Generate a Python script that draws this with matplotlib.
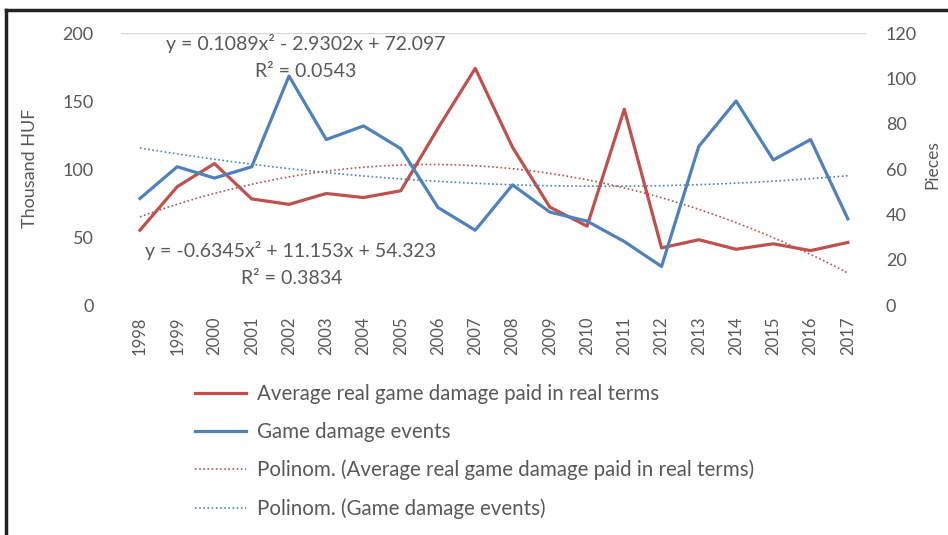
import numpy as np
import matplotlib
matplotlib.use("Agg")
import matplotlib.pyplot as plt
from matplotlib.lines import Line2D

# data
years = [str(y) for y in range(1998, 2018)]
damage_paid = [55, 87, 104, 78, 74, 82, 79, 84, 130, 174, 116, 72, 58, 144,
               42, 48, 41, 45, 40, 46]
damage_events = [47, 61, 56, 61, 101, 73, 79, 69, 43, 33, 53, 41, 37, 28,
                 17, 70, 90, 64, 73, 38]

# Excel trendline coefficients (x = 1..20)
paid_fit = [-0.6345, 11.153, 54.323]
events_fit = [0.1089, -2.9302, 72.097]

RED = "#C0504D"
BLUE = "#4F81BD"
GRAY = "#595959"

plt.rcParams["font.family"] = ["Lato", "DejaVu Sans"]

fig = plt.figure(figsize=(9.48, 5.35), dpi=100)
ax = fig.add_axes([0.128, 0.4299, 0.786, 0.5084])
ax2 = ax.twinx()

x = np.arange(len(years))
xs = np.linspace(0, len(years) - 1, 200)

l1, = ax.plot(x, damage_paid, color=RED, lw=2.3, zorder=3)
t1, = ax.plot(xs, np.polyval(paid_fit, xs + 1), color=RED, lw=1.2,
              ls=(0, (1, 1.5)), zorder=2)
l2, = ax2.plot(x, damage_events, color=BLUE, lw=2.3, zorder=3)
t2, = ax2.plot(xs, np.polyval(events_fit, xs + 1), color=BLUE, lw=1.2,
               ls=(0, (1, 1.5)), zorder=2)

ax.axhline(200, color="#D9D9D9", lw=1, zorder=1)

ax.set_xlim(-0.5, len(years) - 0.5)
ax.set_ylim(0, 200)
ax2.set_ylim(0, 120)
ax.set_yticks(range(0, 201, 50))
ax2.set_yticks(range(0, 121, 20))
ax.set_xticks(x)
ax.set_xticklabels(years, rotation=90)

for a in (ax, ax2):
    for s in a.spines.values():
        s.set_visible(False)
    a.tick_params(length=0, colors=GRAY, labelsize=13)
ax.tick_params(axis="x", labelsize=12, pad=8)
ax.tick_params(axis="y", pad=20)
ax2.tick_params(axis="y", pad=14)

ax.set_ylabel("Thousand HUF", color=GRAY, fontsize=13)
ax.yaxis.set_label_coords(-0.112, 0.502)
ax2.set_ylabel("Pieces", color=GRAY, fontsize=12.5)
ax2.yaxis.set_label_coords(1.078, 0.515)

# trendline equations
eq_kw = dict(transform=ax.transAxes, ha="center", va="center", color=GRAY,
             fontsize=14)
ax.text(0.248, 0.963, "y = 0.1089x² - 2.9302x + 72.097", **eq_kw)
ax.text(0.247, 0.857, "R² = 0.0543", **eq_kw)
ax.text(0.227, 0.202, "y = -0.6345x² + 11.153x + 54.323", **eq_kw)
ax.text(0.228, 0.099, "R² = 0.3834", **eq_kw)

fig.legend([l1, l2, t1, t2],
           ["Average real game damage paid in real terms",
            "Game damage events",
            "Polinom. (Average real game damage paid in real terms)",
            "Polinom. (Game damage events)"],
           loc="upper left", bbox_to_anchor=(0.2057, 0.282), frameon=False,
           fontsize=14.8, labelcolor=GRAY, handlelength=2.5, handletextpad=0.5,
           labelspacing=0.87, borderaxespad=0, borderpad=0)

# frame lines (top and left)
fig.add_artist(Line2D([0.006, 1.0], [0.981, 0.981], color="#222222", lw=2.5,
                      transform=fig.transFigure))
fig.add_artist(Line2D([0.006, 0.006], [0.0, 0.981], color="#222222", lw=2.5,
                      transform=fig.transFigure))

fig.savefig("out.png", dpi=100)
